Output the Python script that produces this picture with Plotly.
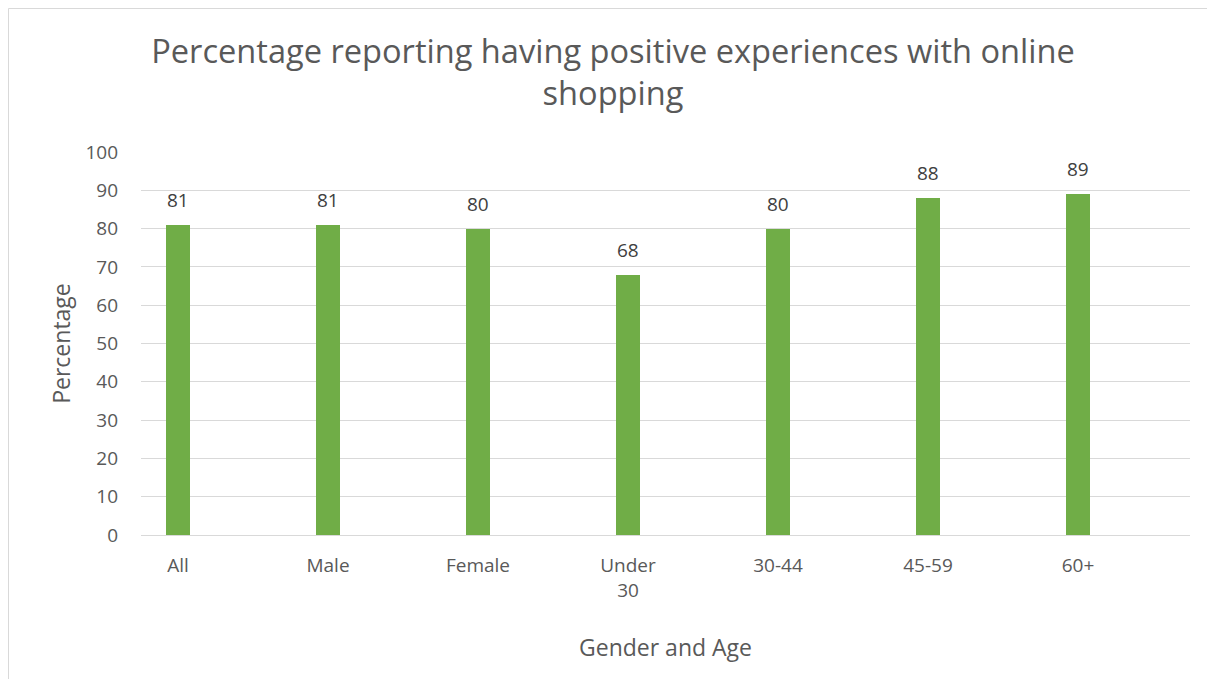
import plotly.graph_objects as go

categories = ["All", "Male", "Female", "Under<br>30", "30-44", "45-59", "60+"]
values = [81, 81, 80, 68, 80, 88, 89]
y_ticks = [0, 10, 20, 30, 40, 50, 60, 70, 80, 90, 100]

# page is rendered with an 8px body offset
W, H = 1207, 671
L, R, T, B = 133, 1182, 144, 527

xs = list(range(len(categories)))

fig = go.Figure()
fig.add_trace(go.Bar(
    x=xs, y=values, width=0.16,
    marker=dict(color="#70AD47", line=dict(width=0)),
    hoverinfo="y",
))

for xv, v in zip(xs, values):
    fig.add_annotation(x=xv, y=v, text=str(v), showarrow=False,
                       yanchor="middle", yshift=25,
                       font=dict(family="Open Sans", size=19, color="#404040"))

def px_x(p):
    return (p - L) / (R - L)

def px_y(p):
    return (B - p) / (B - T)

# chart border
fig.add_shape(type="rect", xref="paper", yref="paper",
              x0=px_x(0.5), x1=px_x(1206.5), y0=px_y(700), y1=px_y(0.5),
              line=dict(color="#D9D9D9", width=1), fillcolor="rgba(0,0,0,0)", layer="below")

fig.update_layout(
    width=W, height=H,
    margin=dict(l=L, r=W - R, t=T, b=H - B, pad=0),
    paper_bgcolor="white", plot_bgcolor="white",
    showlegend=False,
    font=dict(family="Open Sans", color="#595959"),
    title=dict(
        text="Percentage reporting having positive experiences with online<br>shopping",
        x=605 / W, xanchor="center",
        y=1 - 55 / H, yanchor="top",
        font=dict(family="Open Sans", size=32.6, color="#595959"),
    ),
    bargap=0,
)

fig.update_xaxes(
    range=[-0.2467, 6.7467],
    tickmode="array", tickvals=xs, ticktext=categories,
    showgrid=False, zeroline=False, showline=False,
    ticks="", ticklabelstandoff=17,
    tickfont=dict(family="Open Sans", size=19, color="#595959"),
    title=dict(text="Gender and Age", standoff=38,
               font=dict(family="Open Sans", size=23, color="#595959")),
)
fig.update_yaxes(
    range=[0, 100],
    tickmode="array", tickvals=y_ticks,
    showgrid=True, gridcolor="#D9D9D9", gridwidth=1,
    zeroline=True, zerolinecolor="#D9D9D9", zerolinewidth=1,
    showline=False, ticks="", ticklabelstandoff=22,
    tickfont=dict(family="Open Sans", size=19, color="#595959"),
    title=dict(text="Percentage", standoff=8,
               font=dict(family="Open Sans", size=23, color="#595959")),
)

fig.write_html("out.html")
